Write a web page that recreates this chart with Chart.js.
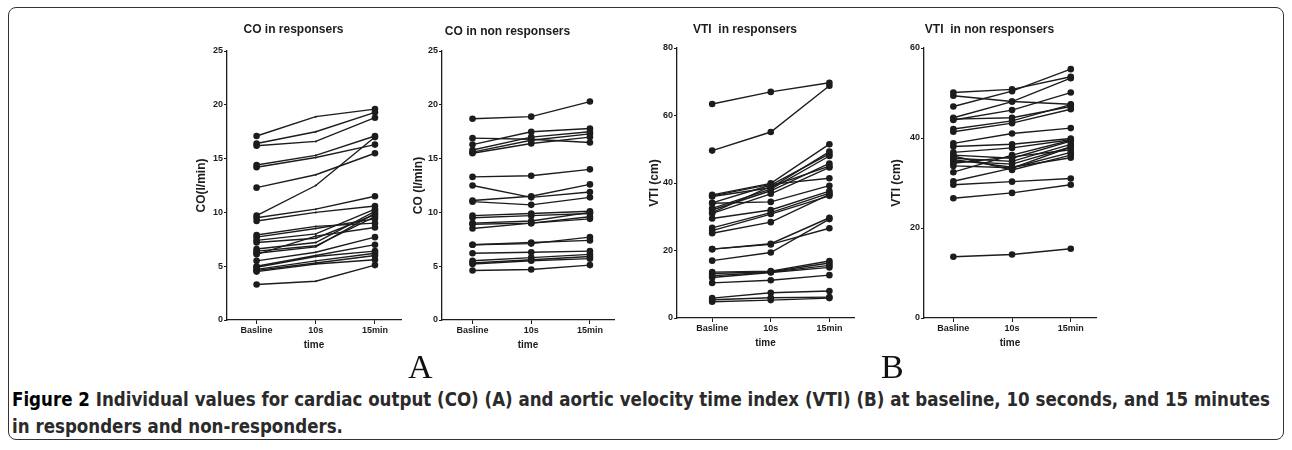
<!DOCTYPE html>
<html>
<head>
<meta charset="utf-8">
<script src="https://cdn.jsdelivr.net/npm/chart.js"></script>
<style>
  body { margin: 0; width: 1292px; height: 450px; background: #fff; position: relative; overflow: hidden; }
  #frame { position: absolute; left: 8px; top: 7px; width: 1276px; height: 433px; border: 1.4px solid #333; border-radius: 8px; box-sizing: border-box; }
  .panel { position: absolute; top: 0; }
  .letter { position: absolute; top: 348px; font-family: "Liberation Serif", "DejaVu Serif", serif; font-size: 34px; color: #111; }
  #caption { position: absolute; left: 12px; top: 386px; font-family: "Liberation Sans Narrow", "DejaVu Sans Condensed", "Liberation Sans", sans-serif; font-weight: bold; font-size: 19px; line-height: 27px; color: #2a2a2a; white-space: nowrap; transform-origin: 0 0; }
  #caption b { color: #000; }
</style>
</head>
<body>
<div id="frame"></div>
<div class="panel" style="left:182px"><canvas id="coResp"></canvas></div>
<div class="panel" style="left:397px"><canvas id="coNon"></canvas></div>
<div class="panel" style="left:632px"><canvas id="vtiResp"></canvas></div>
<div class="panel" style="left:879px"><canvas id="vtiNon"></canvas></div>
<div class="letter" style="left:408px">A</div>
<div class="letter" style="left:881px">B</div>
<div id="caption">
  <div id="capLine1"><b>Figure 2</b> Individual values for cardiac output (CO) (A) and aortic velocity time index (VTI) (B) at baseline, 10 seconds, and 15 minutes</div>
  <div>in responders and non-responders.</div>
</div>
<script>
const times = ['Basline', '10s', '15min'];

// one row per patient: [Basline, 10s, 15min]
const coResp = [
  [17.1, 18.9, 19.6], [16.4, 17.5, 19.3], [16.2, 16.6, 18.8], [14.4, 15.3, 17.1],
  [14.2, 15.1, 16.3], [12.3, 13.5, 15.5], [9.7, 12.5, 17.0], [9.5, 10.3, 11.5],
  [9.2, 10.0, 10.6], [7.9, 8.7, 9.0], [7.7, 8.5, 9.4], [7.4, 8.0, 10.3],
  [7.2, 7.6, 9.8], [6.6, 7.2, 10.1], [6.4, 6.9, 9.6], [6.2, 6.8, 9.9],
  [6.1, 7.8, 8.6], [5.5, 6.3, 7.7], [5.0, 6.0, 7.0], [4.9, 5.9, 6.4],
  [4.7, 5.5, 6.2], [4.6, 5.3, 6.0], [4.5, 5.2, 5.6], [3.3, 3.6, 5.1]
];
const coNon = [
  [18.7, 18.9, 20.3], [16.9, 16.8, 16.5], [16.3, 17.5, 17.8], [15.8, 17.0, 17.5],
  [15.6, 16.7, 17.3], [15.5, 16.4, 17.0], [13.3, 13.4, 14.0], [12.5, 11.4, 11.9],
  [11.1, 11.5, 12.6], [11.0, 10.7, 11.4], [9.7, 9.9, 10.1], [9.5, 9.7, 9.9],
  [9.0, 9.2, 10.0], [8.9, 9.0, 9.6], [8.5, 9.0, 9.4], [7.0, 7.1, 7.7],
  [7.0, 7.2, 7.4], [6.2, 6.3, 6.4], [5.5, 5.8, 6.1], [5.3, 5.6, 5.9],
  [5.2, 5.5, 5.7], [4.6, 4.7, 5.1]
];
const vtiResp = [
  [63.4, 67.0, 69.7], [49.6, 55.1, 68.8], [36.5, 39.9, 51.5], [36.0, 38.6, 49.3],
  [34.1, 39.4, 48.6], [32.5, 38.2, 48.0], [32.0, 37.7, 45.8], [31.2, 39.0, 45.0],
  [31.0, 36.8, 44.6], [36.2, 39.6, 41.4], [34.0, 34.4, 39.2], [29.5, 32.0, 37.6],
  [26.7, 31.2, 37.0], [25.9, 30.8, 36.2], [25.1, 28.4, 36.6], [20.4, 22.0, 29.7],
  [20.4, 21.8, 26.6], [17.0, 19.4, 29.3], [13.6, 13.9, 16.9], [13.2, 13.7, 16.3],
  [12.5, 13.6, 15.6], [12.0, 13.5, 15.0], [10.4, 11.2, 12.7], [5.9, 7.5, 8.0],
  [5.4, 6.0, 6.2], [4.8, 5.3, 5.9]
];
const vtiNon = [
  [50.1, 50.8, 53.6], [49.4, 48.1, 47.5], [47.0, 50.4, 55.3], [44.5, 48.1, 53.3],
  [44.0, 46.2, 50.1], [44.2, 44.5, 47.0], [42.0, 43.8, 47.4], [41.4, 43.3, 46.4],
  [38.8, 41.0, 42.2], [38.1, 38.6, 39.9], [36.8, 37.8, 39.6], [36.2, 35.5, 39.3],
  [35.5, 34.8, 38.6], [34.9, 34.2, 38.0], [34.4, 35.8, 37.4], [33.8, 33.4, 36.8],
  [36.0, 32.9, 36.2], [35.2, 33.5, 35.6], [32.4, 36.2, 39.5], [30.4, 33.3, 38.0],
  [29.6, 30.3, 31.0], [26.6, 27.8, 29.6], [13.6, 14.1, 15.4]
];

const ink = '#1c1c1c';
const font = '"Liberation Sans", Arial, sans-serif';

function makeChart(id, cfg) {
  const canvas = document.getElementById(id);
  canvas.width = cfg.width;
  canvas.height = cfg.height;
  canvas.style.width = cfg.width + 'px';
  canvas.style.height = cfg.height + 'px';

  const datasets = cfg.rows.map(row => ({
    data: row.map((v, i) => ({ x: i, y: v })),
    borderColor: ink,
    borderWidth: 1.4,
    pointBackgroundColor: ink,
    pointBorderWidth: 0,
    pointRadius: cfg.pointRadius || 3.3,
    tension: 0
  }));

  return new Chart(canvas, {
    type: 'line',
    data: { datasets },
    options: {
      responsive: false,
      maintainAspectRatio: false,
      animation: false,
      devicePixelRatio: 1,
      layout: { padding: 0 },
      plugins: {
        legend: { display: false },
        tooltip: { enabled: false },
        title: {
          display: true,
          text: cfg.title,
          color: ink,
          font: { family: font, size: 12, weight: 'bold', lineHeight: 1.2 },
          padding: { top: cfg.titleTop, bottom: cfg.titleBottom }
        }
      },
      scales: {
        x: {
          type: 'linear',
          min: cfg.xMin,
          max: cfg.xMax,
          afterFit: s => { s.height = 40; },
          afterBuildTicks: s => { s.ticks = times.map((t, i) => ({ value: i })); },
          grid: { drawOnChartArea: false, drawTicks: true, tickLength: 4, color: ink },
          border: { display: true, color: ink, width: 1.3 },
          ticks: {
            padding: 1,
            color: ink,
            font: { family: font, size: 9, weight: 'bold' },
            callback: v => times[v]
          },
          title: {
            display: true,
            text: 'time',
            color: ink,
            font: { family: font, size: 10, weight: 'bold' },
            padding: { top: 0, bottom: 9 }
          }
        },
        y: {
          min: 0,
          max: cfg.yMax,
          afterFit: s => { s.width = 45; },
          grid: { drawOnChartArea: false, drawTicks: true, tickLength: 3, color: ink },
          border: { display: true, color: ink, width: 1.3 },
          ticks: {
            stepSize: cfg.yStep,
            padding: 1,
            color: ink,
            font: { family: font, size: 9, weight: 'bold' }
          },
          title: {
            display: true,
            text: cfg.yTitle,
            color: ink,
            font: { family: font, size: 12, weight: 'bold', lineHeight: 1.2 },
            padding: { top: cfg.yTitlePad, bottom: 0 }
          }
        }
      }
    }
  });
}

makeChart('coResp', {
  rows: coResp, title: 'CO in responsers', yTitle: 'CO(l/min)', yMax: 25, yStep: 5,
  width: 223, height: 360, titleTop: 22.8, titleBottom: 13.8, yTitlePad: 12.8,
  xMin: -0.5, xMax: 2.44, pointRadius: [3.3, 1, 3.3]
});
makeChart('coNon', {
  rows: coNon, title: 'CO in non responsers', yTitle: 'CO (l/min)', yMax: 25, yStep: 5,
  width: 221, height: 360, titleTop: 24.8, titleBottom: 11.8, yTitlePad: 14.8,
  xMin: -0.52, xMax: 2.41
});
makeChart('vtiResp', {
  rows: vtiResp, title: 'VTI  in responsers', yTitle: 'VTI (cm)', yMax: 80, yStep: 20,
  width: 226, height: 358, titleTop: 22.8, titleBottom: 10.8, yTitlePad: 15.8,
  xMin: -0.6, xMax: 2.42
});
makeChart('vtiNon', {
  rows: vtiNon, title: 'VTI  in non responsers', yTitle: 'VTI (cm)', yMax: 60, yStep: 20,
  width: 221, height: 358, titleTop: 22.8, titleBottom: 10.8, yTitlePad: 10.8,
  xMin: -0.5, xMax: 2.43
});

// stretch the caption so its first line spans the frame like the original
const line1 = document.getElementById('capLine1');
const w = line1.getBoundingClientRect().width;
document.getElementById('caption').style.transform = 'scaleX(' + (1258 / w) + ')';
</script>
</body>
</html>
